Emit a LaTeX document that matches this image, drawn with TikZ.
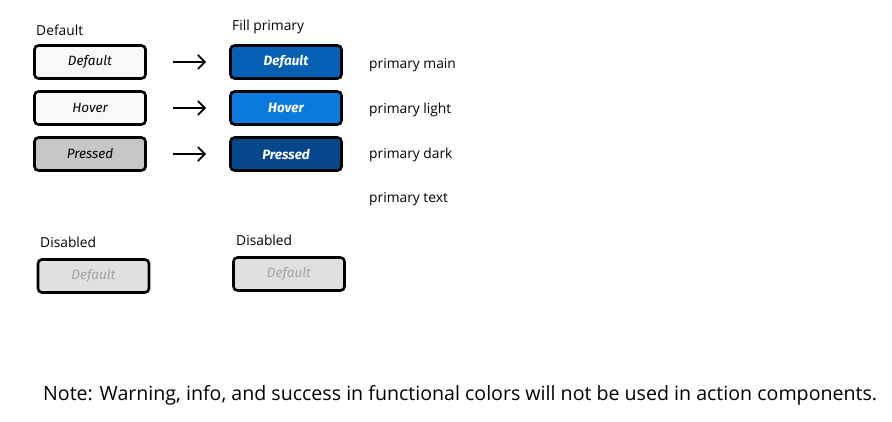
\documentclass[tikz,border=0pt]{standalone}
\usepackage{fontspec}
\setmainfont{Open Sans}
\newfontfamily\btnfont{Fira Sans}
\usepackage{tikz}
\usetikzlibrary{positioning,arrows.meta}
\definecolor{primarymain}{HTML}{0560B3}
\definecolor{primarylight}{HTML}{0A7BDC}
\definecolor{primarydark}{HTML}{05478A}
\definecolor{btnwhite}{HTML}{F8F8F8}
\definecolor{btnpressed}{HTML}{C6C6C6}
\definecolor{btndisabled}{HTML}{E0E0E0}
\definecolor{txtdisabled}{HTML}{A3A3A3}

\begin{document}
\begin{tikzpicture}[x=1pt,y=-1pt,node distance=46pt,on grid,
		btn/.style={rectangle,draw=black,line width=2.6pt,rounded corners=4pt,
			minimum width=111pt,minimum height=33pt,font=\btnfont\itshape\fontsize{13.5}{15}\selectfont},
		fillbtn/.style={btn,text=white,font=\btnfont\itshape\bfseries\fontsize{13.5}{15}\selectfont},
		label/.style={anchor=west,inner sep=0pt,font=\fontsize{13.8}{16}\selectfont},
		tip/.style={-{Straight Barb[length=7pt,width=14pt,line width=1.8pt]},line width=2.2pt,
			shorten <=26pt,shorten >=23pt}]
		\useasboundingbox (0,0) rectangle (892,421);
		
		% default column
		\node[btn,fill=btnwhite]   (d1)                  at (90,62)  {Default};
		\node[btn,fill=btnwhite]   (d2)  [below=of d1]   {Hover};
		\node[btn,fill=btnpressed] (d3)  [below=of d2]   {Pressed};
		
		% fill primary column
		\node[fillbtn,fill=primarymain]  (f1)  [right=196pt of d1]   {Default};
		\node[fillbtn,fill=primarylight] (f2)  [below=of f1]         {Hover};
		\node[fillbtn,fill=primarydark]  (f3)  [below=of f2]         {Pressed};
		
		% disabled
		\node[btn,fill=btndisabled,text=txtdisabled] (x1) at (93.5,276) {Default};
		\node[btn,fill=btndisabled,text=txtdisabled] (x2) at (289,274)  {Default};
		
		% labels
		\node[label] (ldef)  at (36,30)  {Default};
		\node[label] (lfill) at (232,27) {Fill primary};
		\node[label] (ldis1) at (40,242) {Disabled};
		\node[label] (ldis2) at (236,240) {Disabled};
		\node[label] (pm) at (369,65)  {primary main};
		\node[label] (pl) at (369,110) {primary light};
		\node[label] (pd) at (369,155) {primary dark};
		\node[label] (pt) at (369,199) {primary text};
		
		\node[label,font=\fontsize{19.6}{22}\selectfont] (note) at (43,395)
			{Note: Warning, info, and success in functional colors will not be used in action components.};
		
		\path
		(d1) edge[tip] (f1)
		(d2) edge[tip] (f2)
		(d3) edge[tip] (f3);
\end{tikzpicture}
\end{document}
